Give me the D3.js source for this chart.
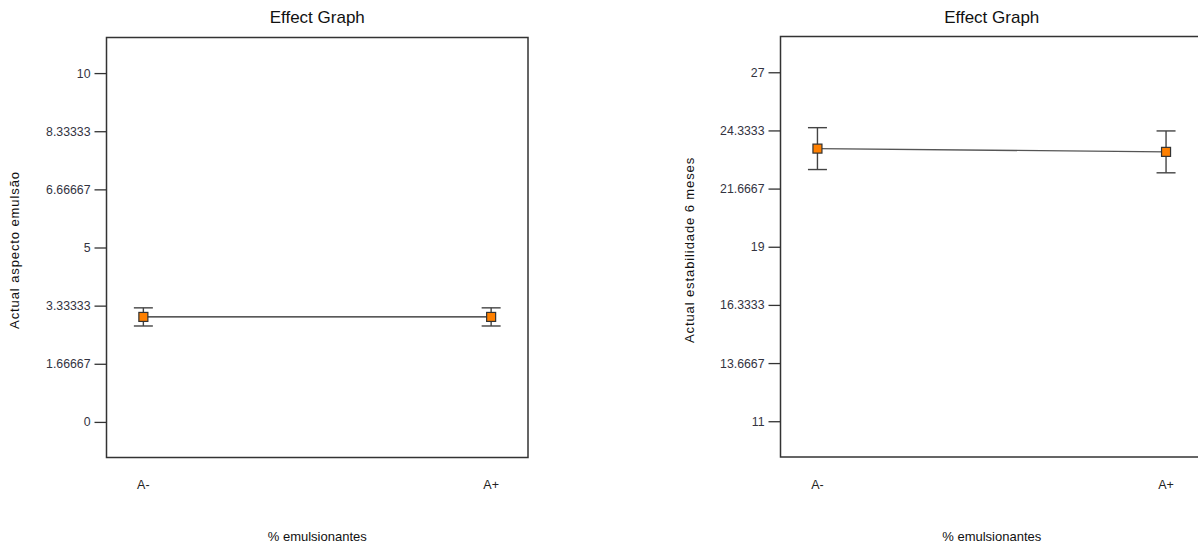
<!DOCTYPE html>
<html>
<head>
<meta charset="utf-8">
<script src="https://cdn.jsdelivr.net/npm/d3@7"></script>
<style>
  html, body { margin: 0; padding: 0; background: #fff; }
  svg { display: block; font-family: "Liberation Sans", Arial, sans-serif; }
</style>
</head>
<body>
<svg id="chart" width="1198" height="547"></svg>
<script>
// Factor levels on the horizontal axis
const levels = ["A-", "A+"];

// Response 1: Actual aspecto emulsão (means and LSD half-widths)
const aspectoMeans = [3.01, 3.01];
const aspectoLSD = [0.26, 0.26];
const aspectoTicks = [0, 5 / 3, 10 / 3, 5, 20 / 3, 25 / 3, 10];
const aspectoTickLabels = ["0", "1.66667", "3.33333", "5", "6.66667", "8.33333", "10"];

// Response 2: Actual estabilidade 6 meses
const estabMeans = [23.5, 23.35];
const estabLSD = [0.96, 0.96];
const estabTicks = [11, 13.6667, 16.3333, 19, 21.6667, 24.3333, 27];
const estabTickLabels = ["11", "13.6667", "16.3333", "19", "21.6667", "24.3333", "27"];

const panels = [
  {
    title: "Effect Graph",
    yTitle: "Actual aspecto emulsão",
    xTitle: "% emulsionantes",
    means: aspectoMeans, lsd: aspectoLSD,
    ticks: aspectoTicks, tickLabels: aspectoTickLabels,
    yDomain: [-1.02, 11.02],
    left: 106.5, right: 528, top: 37.5, bottom: 457.5,
    yTitleX: 15, lineColor: "#222"
  },
  {
    title: "Effect Graph",
    yTitle: "Actual estabilidade 6 meses",
    xTitle: "% emulsionantes",
    means: estabMeans, lsd: estabLSD,
    ticks: estabTicks, tickLabels: estabTickLabels,
    yDomain: [9.36, 28.64],
    left: 780.5, right: 1203, top: 36.5, bottom: 457,
    yTitleX: 690, lineColor: "#555"
  }
];

const svg = d3.select("#chart");

panels.forEach(p => {
  const g = svg.append("g");

  const x = d3.scalePoint().domain(levels).range([p.left, p.right]).padding(0.106);
  const y = d3.scaleLinear().domain(p.yDomain).range([p.bottom, p.top]);
  const cx = (p.left + p.right) / 2;

  // Plot frame
  g.append("rect")
    .attr("x", p.left).attr("y", p.top)
    .attr("width", p.right - p.left).attr("height", p.bottom - p.top)
    .attr("fill", "none").attr("stroke", "#333").attr("stroke-width", 1.5);

  // Y axis
  const yAxis = d3.axisLeft(y)
    .tickValues(p.ticks)
    .tickFormat((d, i) => p.tickLabels[i])
    .tickSize(12).tickPadding(4);
  const ya = g.append("g").attr("transform", `translate(${p.left},0)`).call(yAxis);
  ya.select(".domain").remove();
  ya.selectAll(".tick line").attr("stroke", "#333").attr("stroke-width", 1.3);
  ya.selectAll(".tick text")
    .attr("fill", "#33333f")
    .style("font-size", "12.3px")
    .style("font-family", "'Liberation Sans', Arial, sans-serif");

  // X level labels
  g.selectAll(".xlab").data(levels).join("text")
    .attr("x", d => x(d)).attr("y", 489)
    .attr("text-anchor", "middle")
    .attr("fill", "#222")
    .style("font-size", "12.5px")
    .text(d => d);

  // Titles
  g.append("text")
    .attr("x", cx).attr("y", 23)
    .attr("text-anchor", "middle").attr("fill", "#111")
    .style("font-size", "17px")
    .text(p.title);

  g.append("text")
    .attr("x", cx).attr("y", 541)
    .attr("text-anchor", "middle").attr("fill", "#111")
    .style("font-size", "13px")
    .text(p.xTitle);

  g.append("text")
    .attr("transform", `translate(${p.yTitleX + 4},250) rotate(-90)`)
    .attr("text-anchor", "middle").attr("fill", "#111")
    .style("font-size", "13px")
    .style("letter-spacing", "0.9px")
    .text(p.yTitle);

  const pts = levels.map((lv, i) => ({ lv, m: p.means[i], e: p.lsd[i] }));

  // Effect line
  g.append("path")
    .datum(pts)
    .attr("fill", "none")
    .attr("stroke", p.lineColor).attr("stroke-width", 1.3)
    .attr("d", d3.line().x(d => x(d.lv)).y(d => y(d.m)));

  // LSD bars
  const bars = g.selectAll(".bar").data(pts).join("g").attr("stroke", "#444").attr("stroke-width", 1.4);
  bars.append("line")
    .attr("x1", d => x(d.lv)).attr("x2", d => x(d.lv))
    .attr("y1", d => y(d.m + d.e)).attr("y2", d => y(d.m - d.e));
  bars.append("line")
    .attr("x1", d => x(d.lv) - 9.5).attr("x2", d => x(d.lv) + 9.5)
    .attr("y1", d => y(d.m + d.e)).attr("y2", d => y(d.m + d.e));
  bars.append("line")
    .attr("x1", d => x(d.lv) - 9.5).attr("x2", d => x(d.lv) + 9.5)
    .attr("y1", d => y(d.m - d.e)).attr("y2", d => y(d.m - d.e));

  // Mean markers
  g.selectAll(".pt").data(pts).join("rect")
    .attr("x", d => x(d.lv) - 4.5).attr("y", d => y(d.m) - 4.5)
    .attr("width", 9).attr("height", 9)
    .attr("fill", "#ff8000").attr("stroke", "#333").attr("stroke-width", 1.2);
});
</script>
</body>
</html>
